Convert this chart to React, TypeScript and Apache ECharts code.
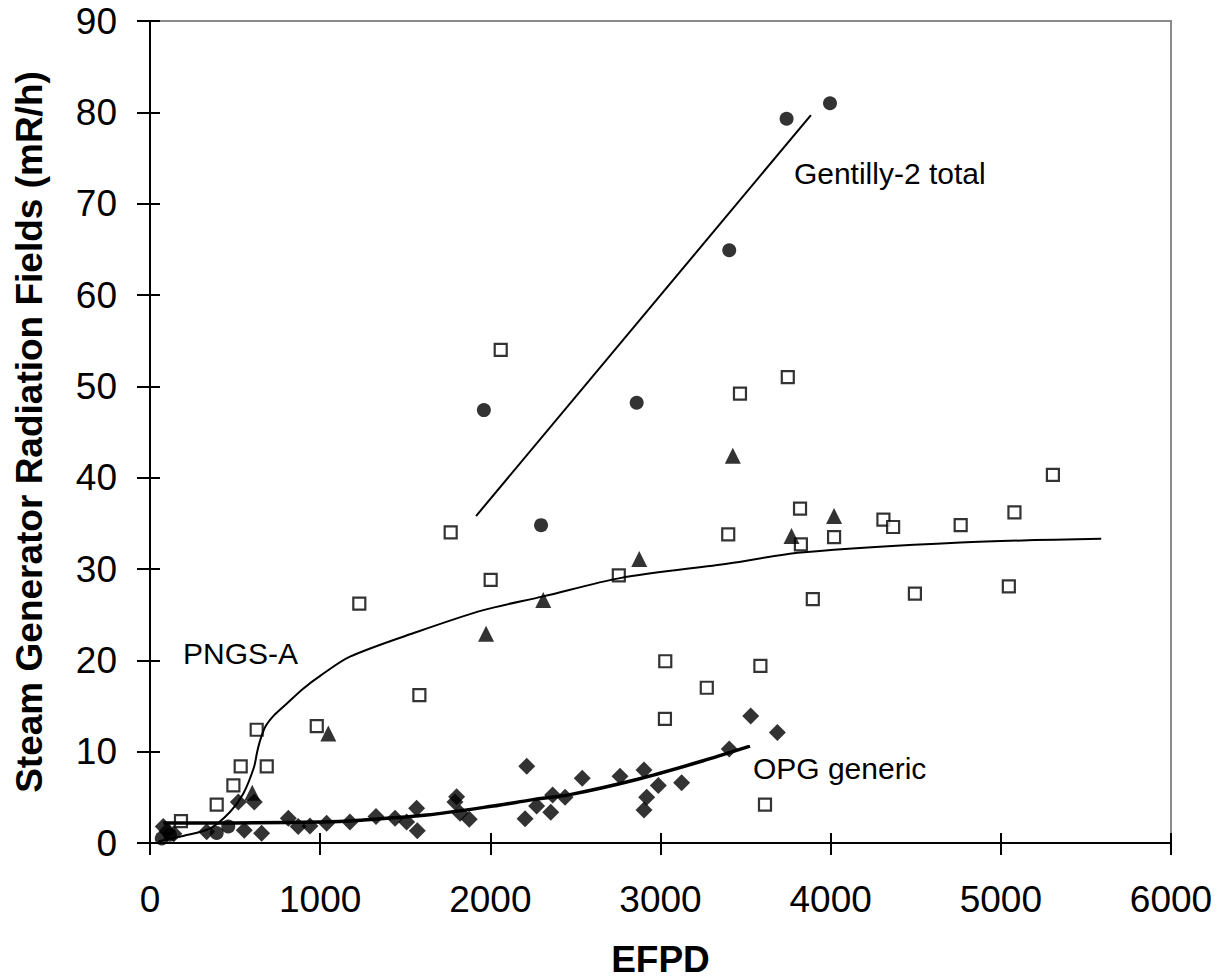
import React, { useEffect, useRef } from "react";
import * as echarts from "echarts";

const FONT = "'Liberation Sans', Arial, Helvetica, sans-serif";

const xTicks = { min: 0, max: 6000, interval: 1000 };
const yTicks = { min: 0, max: 90, interval: 10 };

// PNGS-A (open squares)
const pngsPoints: [number, number][] = [
  [182, 2.4], [392, 4.2], [490, 6.3], [533, 8.4], [627, 12.4], [686, 8.4], [980, 12.8],
  [1230, 26.2], [1583, 16.2], [1767, 34.0], [2002, 28.8], [2061, 54.0], [2755, 29.3],
  [3026, 13.6], [3028, 19.9], [3272, 17.0], [3398, 33.8], [3467, 49.2], [3587, 19.4],
  [3614, 4.2], [3748, 51.0], [3820, 36.6], [3825, 32.7], [3895, 26.7], [4020, 33.5],
  [4310, 35.4], [4367, 34.6], [4495, 27.3], [4764, 34.8], [5047, 28.1], [5080, 36.2],
  [5306, 40.3],
];

// filled triangles
const trianglePoints: [number, number][] = [
  [601, 5.5], [1048, 12.0], [1975, 22.9], [2311, 26.6], [2875, 31.1], [3425, 42.4],
  [3770, 33.6], [4020, 35.8],
];

// Gentilly-2 total (filled circles)
const gentillyPoints: [number, number][] = [
  [69, 0.5], [117, 0.9], [392, 1.1], [460, 1.8], [1962, 47.4], [2298, 34.8],
  [2860, 48.2], [3404, 64.9], [3741, 79.3], [3996, 81.0],
];

// OPG generic (filled diamonds)
const opgPoints: [number, number][] = [
  [78, 1.8], [100, 1.3], [140, 1.0], [333, 1.24], [519, 4.5], [554, 1.4], [613, 4.5],
  [656, 1.06], [813, 2.7], [871, 1.8], [940, 1.86], [1038, 2.15], [1175, 2.3],
  [1328, 2.9], [1440, 2.7], [1508, 2.3], [1567, 3.8], [1571, 1.35], [1792, 4.5],
  [1802, 5.07], [1822, 3.25], [1876, 2.6], [2204, 2.66], [2214, 8.4], [2272, 4.05],
  [2355, 3.36], [2366, 5.25], [2439, 5.0], [2540, 7.1], [2762, 7.3], [2903, 8.0],
  [2903, 3.6], [2919, 5.0], [2987, 6.3], [3124, 6.6], [3404, 10.3], [3530, 13.9],
  [3687, 12.1],
];

// trend lines
const pngsTrend: [number, number][] = [
  [50, 0.2], [200, 0.8], [353, 1.6], [470, 3.4], [548, 5.4], [611, 8.3], [630, 10.0],
  [650, 11.4], [680, 12.8], [730, 14.0], [800, 15.2], [900, 16.9], [1000, 18.3],
  [1175, 20.4], [1567, 23.1], [1959, 25.5], [2311, 27.0], [2762, 29.0], [3400, 30.6],
  [3825, 31.8], [4764, 32.9], [5590, 33.3],
];
const gentillyTrend: [number, number][] = [[1916, 35.8], [3884, 79.7]];
const opgTrend: [number, number][] = [
  [78, 2.2], [500, 2.2], [1000, 2.3], [1234, 2.5], [1626, 3.06], [2017, 4.05],
  [2252, 4.75], [2468, 5.3], [2860, 6.95], [3251, 9.0], [3526, 10.6],
];

const annotations: { text: string; at: [number, number] }[] = [
  { text: "Gentilly-2 total", at: [3784, 73.3] },
  { text: "PNGS-A", at: [194, 20.7] },
  { text: "OPG generic", at: [3543, 8.15] },
];

const xTitle = "EFPD";
const yTitle = "Steam Generator Radiation Fields (mR/h)";

export default function App() {
  const ref = useRef<HTMLDivElement>(null);
  useEffect(() => {
    if (!ref.current) return;
    const chart = echarts.init(ref.current, null, { renderer: "svg" });
    const tickStyle = { color: "#000", width: 2 };
    const plain = (v: number) => String(v);
    const option: any = {
      animation: false,
      backgroundColor: "#fff",
      grid: {
        left: 150, right: 46, top: 21, bottom: 137,
        show: true, borderColor: "#8a8a8a", borderWidth: 2,
        containLabel: false, outerBoundsMode: "none",
      },
      xAxis: [
        {
          type: "value", ...xTicks,
          axisLine: { show: true, onZero: false, lineStyle: { color: "#000", width: 2 } },
          axisTick: { show: true, inside: false, length: 12, lineStyle: tickStyle },
          axisLabel: { color: "#000", fontSize: 37, fontFamily: FONT, margin: 38, formatter: plain },
          splitLine: { show: false },
          name: xTitle, nameLocation: "middle", nameGap: 99,
          nameTextStyle: {
            color: "#000", fontSize: 37, lineHeight: 34, fontWeight: "bold", fontFamily: FONT,
          },
        },
        {
          type: "value", ...xTicks, position: "bottom",
          axisLine: { show: false },
          axisTick: { show: true, inside: true, length: 10, lineStyle: tickStyle },
          axisLabel: { show: false }, splitLine: { show: false },
        },
      ],
      yAxis: [
        {
          type: "value", ...yTicks,
          axisLine: { show: true, onZero: false, lineStyle: { color: "#000", width: 2 } },
          axisTick: { show: true, inside: false, length: 13, lineStyle: tickStyle },
          axisLabel: { color: "#000", fontSize: 37, fontFamily: FONT, margin: 33, formatter: plain },
          splitLine: { show: false },
          name: yTitle, nameLocation: "middle", nameGap: 102, nameRotate: 90,
          nameTextStyle: { color: "#000", fontSize: 37, fontWeight: "bold", fontFamily: FONT },
        },
        {
          type: "value", ...yTicks, position: "left",
          axisLine: { show: false },
          axisTick: { show: true, inside: true, length: 10, lineStyle: tickStyle },
          axisLabel: { show: false }, splitLine: { show: false },
        },
      ],
      series: [
        {
          type: "scatter", name: "PNGS-A", data: pngsPoints, symbol: "rect", symbolSize: 12,
          itemStyle: { color: "#fff", borderColor: "#000", borderWidth: 2.2 },
        },
        {
          type: "scatter", name: "triangles", data: trianglePoints, symbol: "triangle",
          symbolSize: 16, itemStyle: { color: "#000" },
        },
        {
          type: "scatter", name: "Gentilly-2 total", data: gentillyPoints, symbol: "circle",
          symbolSize: 14, itemStyle: { color: "#000" },
        },
        {
          type: "scatter", name: "OPG generic", data: opgPoints, symbol: "diamond",
          symbolSize: 17, itemStyle: { color: "#000" },
        },
        {
          type: "line", name: "PNGS-A trend", data: pngsTrend, showSymbol: false,
          smooth: 0.3, lineStyle: { color: "#000", width: 2 },
        },
        {
          type: "line", name: "Gentilly trend", data: gentillyTrend, showSymbol: false,
          lineStyle: { color: "#000", width: 2 },
        },
        {
          type: "line", name: "OPG trend", data: opgTrend, showSymbol: false,
          smooth: 0.3, lineStyle: { color: "#000", width: 3.5 },
        },
      ],
    };
    chart.setOption(option);
    const graphic = annotations.map((a) => {
      const p = chart.convertToPixel({ xAxisIndex: 0, yAxisIndex: 0 }, a.at) as number[];
      return {
        type: "text", x: p[0], y: p[1],
        style: {
          text: a.text, fill: "#000", fontSize: 30, fontFamily: FONT,
          textAlign: "left", textVerticalAlign: "middle",
        },
      };
    });
    chart.setOption({ graphic });
    return () => chart.dispose();
  }, []);
  return (
    <div
      ref={ref}
      style={{ position: "fixed", left: 0, top: 0, width: 1217, height: 980, background: "#fff" }}
    />
  );
}
